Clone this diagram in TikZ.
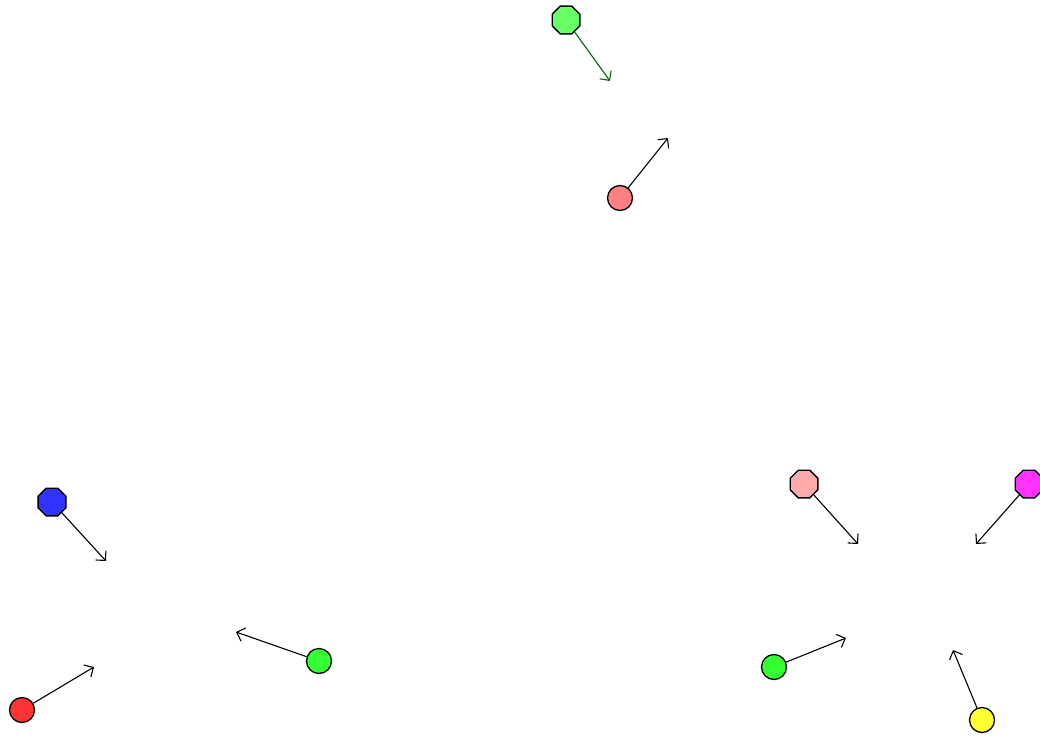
\documentclass[tikz,border=0pt]{standalone}
\usetikzlibrary{shapes.geometric,arrows.meta}
\begin{document}
\begin{tikzpicture}[x=1pt,y=-1pt,
  dot/.style={circle,draw=black,line width=1.3pt,minimum size=25pt,inner sep=0pt},
  oct/.style={regular polygon,regular polygon sides=8,draw=black,line width=1.3pt,minimum size=30pt,inner sep=0pt},
  conn/.style={line width=1.1pt,-{Straight Barb[length=7pt,width=14pt]}}]
\useasboundingbox (0,0) rectangle (1040,739);
\definecolor{lg}{HTML}{66FF66}
\definecolor{salmon}{HTML}{FF8080}
\definecolor{bl}{HTML}{3333FF}
\definecolor{rd}{HTML}{FF3333}
\definecolor{gr}{HTML}{33FF33}
\definecolor{pk}{HTML}{FFAAAA}
\definecolor{mg}{HTML}{FF33FF}
\definecolor{yl}{HTML}{FFFF33}
\node[oct,fill=lg] (n1) at (566,20) {};
\coordinate (e1) at (610,81);
\node[dot,fill=salmon] (n2) at (620,198) {};
\coordinate (e2) at (668,138);
\node[oct,fill=bl] (n3) at (52,502) {};
\coordinate (e3) at (106,561);
\node[dot,fill=rd] (n4) at (22,710) {};
\coordinate (e4) at (94,667);
\node[dot,fill=gr] (n5) at (319,661) {};
\coordinate (e5) at (236,632);
\node[oct,fill=pk] (n6) at (804,484) {};
\coordinate (e6) at (858,544);
\node[oct,fill=mg] (n7) at (1029,484) {};
\coordinate (e7) at (976,544);
\node[dot,fill=gr] (n8) at (774,667) {};
\coordinate (e8) at (846,638);
\node[dot,fill=yl] (n9) at (982,720) {};
\coordinate (e9) at (953,650);
\draw[conn,draw=black!60!green] (n1) -- (e1);
\draw[conn] (n2) -- (e2);
\draw[conn] (n3) -- (e3);
\draw[conn] (n4) -- (e4);
\draw[conn] (n5) -- (e5);
\draw[conn] (n6) -- (e6);
\draw[conn] (n7) -- (e7);
\draw[conn] (n8) -- (e8);
\draw[conn] (n9) -- (e9);
\end{tikzpicture}
\end{document}
